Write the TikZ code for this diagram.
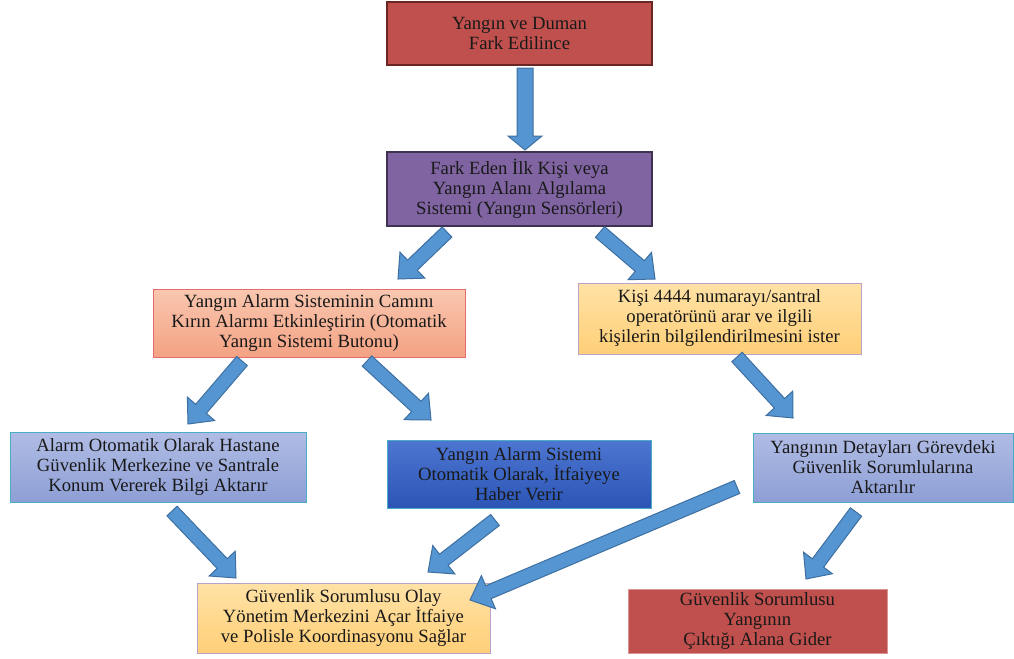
\documentclass[tikz,border=0pt]{standalone}
\usepackage{fontspec}
\setmainfont{LiberationSerif}[Extension=.ttf, UprightFont=*-Regular, BoldFont=*-Bold]
\usetikzlibrary{calc}

\definecolor{fireRed}{HTML}{C0504D}
\definecolor{fireEdge}{HTML}{6B2624}
\definecolor{sensePurple}{HTML}{8064A2}
\definecolor{senseEdge}{HTML}{3F3151}
\definecolor{salmonTop}{HTML}{F9C7B0}
\definecolor{salmonBot}{HTML}{F4A283}
\definecolor{salmonEdge}{HTML}{E46C6C}
\definecolor{yellowTop}{HTML}{FFE2A6}
\definecolor{yellowBot}{HTML}{FFCF78}
\definecolor{yellowEdge}{HTML}{B8A2CC}
\definecolor{lilacTop}{HTML}{B0BCE4}
\definecolor{lilacBot}{HTML}{8E9FD6}
\definecolor{navyTop}{HTML}{4D76D2}
\definecolor{navyBot}{HTML}{2B55B5}
\definecolor{tealEdge}{HTML}{4BACC6}
\definecolor{lightRedEdge}{HTML}{D99594}
\definecolor{arrowBlue}{HTML}{5595D2}
\definecolor{arrowEdge}{HTML}{3D6FA0}

\tikzset{
  box/.style={rectangle, align=center, inner sep=0pt, text=black!90,
    font=\fontsize{14}{15}\selectfont},
  redbox/.style={box, fill=fireRed, draw=fireEdge, line width=1.5pt},
  purplebox/.style={box, fill=sensePurple, draw=senseEdge, line width=1.5pt},
  salmonbox/.style={box, top color=salmonTop, bottom color=salmonBot, draw=salmonEdge, line width=0.75pt},
  yellowbox/.style={box, top color=yellowTop, bottom color=yellowBot, draw=yellowEdge, line width=0.75pt},
  lilacbox/.style={box, top color=lilacTop, bottom color=lilacBot, draw=tealEdge, line width=0.75pt},
  navybox/.style={box, top color=navyTop, bottom color=navyBot, draw=tealEdge, line width=0.75pt},
  palered/.style={box, fill=fireRed, draw=lightRedEdge, line width=0.75pt},
  fatarrow/.style={fill=arrowBlue, draw=arrowEdge, line width=0.75pt, line join=miter}
}

% block arrow: from, to, half shaft, half head, head length
\newcommand{\fatarrow}[5]{%
  \coordinate (fa-h) at ($(#2)!#5!(#1)$);
  \draw[fatarrow] ($(#1)!#3!90:(#2)$) -- ($(fa-h)!#3!-90:(#1)$) -- ($(fa-h)!#4!-90:(#1)$)
    -- (#2) -- ($(fa-h)!#4!90:(#1)$) -- ($(fa-h)!#3!90:(#1)$) -- ($(#1)!#3!-90:(#2)$) -- cycle;}

\begin{document}
\begin{tikzpicture}[x=0.75pt, y=-0.75pt]
\useasboundingbox (0,0) rectangle (1014,658);

% boxes
\node[redbox, minimum width=198.75pt, minimum height=47.25pt] (detect) at (519.5,33.5)
  {Yangın ve Duman\\Fark Edilince};
\node[purplebox, minimum width=198.75pt, minimum height=55.5pt] (sense) at (519.5,189)
  {Fark Eden İlk Kişi veya\\Yangın Alanı Algılama\\Sistemi (Yangın Sensörleri)};
\node[salmonbox, minimum width=234pt, minimum height=51pt] (breakglass) at (309,323)
  {Yangın Alarm Sisteminin Camını\\Kırın Alarmı Etkinleştirin (Otomatik\\Yangın Sistemi Butonu)};
\node[yellowbox, minimum width=212.25pt, minimum height=53.25pt] (callop) at (719.5,318.5)
  {Kişi 4444 numarayı/santral\\operatörünü arar ve ilgili\\kişilerin bilgilendirilmesini ister};
\node[lilacbox, minimum width=222pt, minimum height=52.5pt] (alarmauto) at (158,467)
  {Alarm Otomatik Olarak Hastane\\Güvenlik Merkezine ve Santrale\\Konum Vererek Bilgi Aktarır};
\node[navybox, minimum width=198pt, minimum height=51pt] (alarmfire) at (519,474)
  {Yangın Alarm Sistemi\\Otomatik Olarak, İtfaiyeye\\Haber Verir};
\node[lilacbox, minimum width=195pt, minimum height=51.75pt] (details) at (883,467.5)
  {Yangının Detayları Görevdeki\\Güvenlik Sorumlularına\\Aktarılır};
\node[yellowbox, minimum width=219.75pt, minimum height=52.5pt] (command) at (343.5,618)
  {Güvenlik Sorumlusu Olay\\Yönetim Merkezini Açar İtfaiye\\ve Polisle Koordinasyonu Sağlar};
\node[palered, minimum width=194.25pt, minimum height=48pt] (goto) at (757.5,621)
  {Güvenlik Sorumlusu\\Yangının\\Çıktığı Alana Gider};

% arrow ends
\coordinate (s0) at (525,68);   \coordinate (e0) at (525,150);
\coordinate (s1) at (447,232);  \coordinate (e1) at (398,279);
\coordinate (s2) at (600,232);  \coordinate (e2) at (655,279);
\coordinate (s3) at (242,361);  \coordinate (e3) at (188,424);
\coordinate (s4) at (367,361);  \coordinate (e4) at (431,420);
\coordinate (s5) at (737,357);  \coordinate (e5) at (793,418);
\coordinate (s6) at (172,511);  \coordinate (e6) at (236,578);
\coordinate (s7) at (495,520);  \coordinate (e7) at (428,572);
\coordinate (s8) at (737,487);  \coordinate (e8) at (470,600);
\coordinate (s9) at (856,512);  \coordinate (e9) at (806,579);

% arrows
\fatarrow{s0}{e0}{6pt}{12.75pt}{10.5pt}
\foreach \i in {1,...,9}
  \fatarrow{s\i}{e\i}{5.25pt}{13.5pt}{15pt};
\end{tikzpicture}
\end{document}
